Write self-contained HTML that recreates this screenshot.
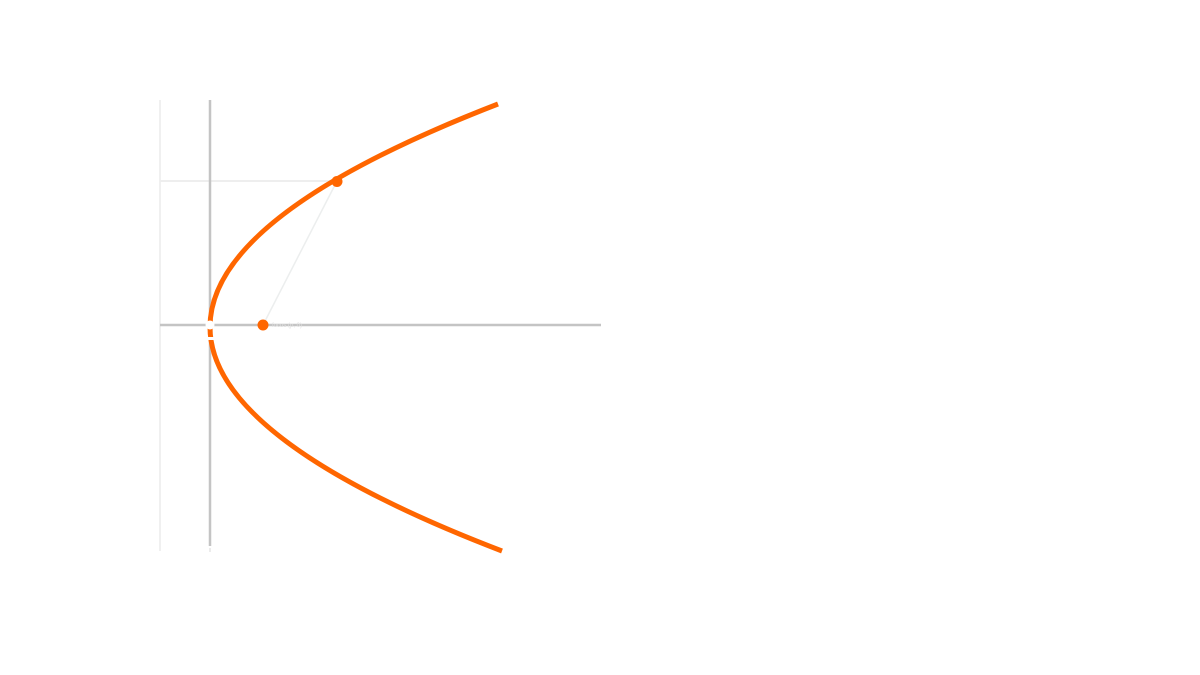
<!DOCTYPE html>
<html><head><meta charset="utf-8"><style>
html,body{margin:0;padding:0;background:#fff;}
svg{display:block;}
</style></head><body>
<svg width="1200" height="675" viewBox="0 0 1200 675" xmlns="http://www.w3.org/2000/svg">
<rect width="1200" height="675" fill="#fff"/>
<!-- faint grid -->
<line x1="160" y1="100" x2="160" y2="551" stroke="#f0f0f0" stroke-width="2"/>
<line x1="160" y1="181" x2="337" y2="181" stroke="#eeeeee" stroke-width="2"/>
<!-- axes -->
<line x1="210" y1="100" x2="210" y2="546" stroke="#c4c4c4" stroke-width="2.5"/>
<line x1="210" y1="548" x2="210" y2="552" stroke="#d8d8d8" stroke-width="1"/>
<line x1="160" y1="325" x2="601" y2="325" stroke="#c4c4c4" stroke-width="2.5"/>
<!-- focal line -->
<line x1="263" y1="325" x2="337" y2="181" stroke="#eceeee" stroke-width="1.5"/>
<!-- parabola -->
<path fill="none" stroke="#ff6600" stroke-width="5" stroke-linecap="butt"
d="M498,104 Q210,215.5 210,327 Q210,439 502,551"/>
<!-- vertex marker gap -->
<circle cx="210" cy="325" r="4.5" fill="#fff"/>
<rect x="206" y="337" width="8" height="3" fill="#fff"/>
<!-- dots -->
<circle cx="263" cy="325" r="5.5" fill="#ff6600"/>
<circle cx="337" cy="181.5" r="5.5" fill="#ff6600"/>
<text x="272" y="327" font-family="Liberation Sans, sans-serif" font-size="6" fill="#e0e0e0">focus (p, 0)</text>
</svg>
</body></html>
